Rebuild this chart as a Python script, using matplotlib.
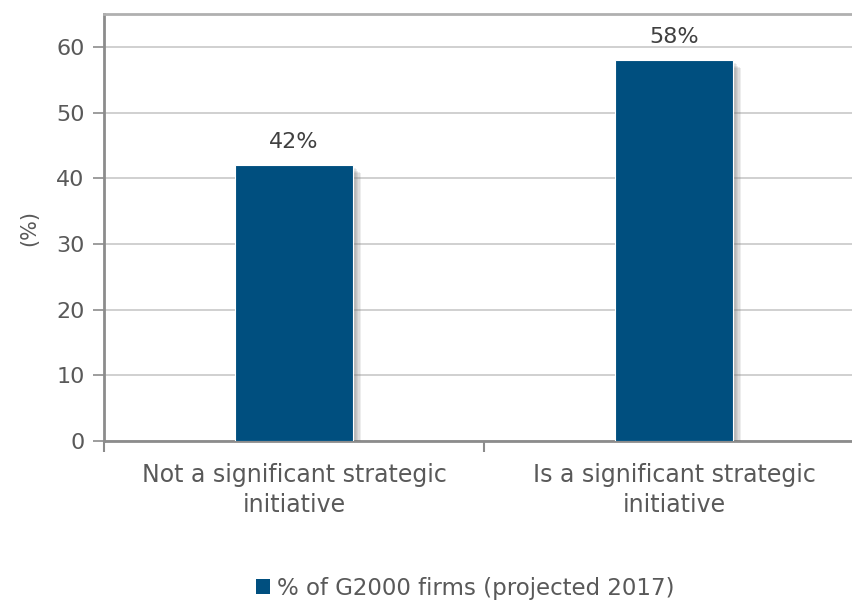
import numpy as np
import matplotlib.pyplot as plt
from matplotlib import patheffects as pe
from matplotlib.patches import Patch

categories = ["Not a significant strategic\ninitiative", "Is a significant strategic\ninitiative"]
values = [42, 58]
value_labels = ["42%", "58%"]
series_name = "% of G2000 firms (projected 2017)"
yticks = [0, 10, 20, 30, 40, 50, 60]

bar_color = "#004f7f"
text_color = "#595959"
axis_color = "#8c8c8c"

plt.rcParams["font.family"] = ["DejaVu Sans"]

fig = plt.figure(figsize=(8.53, 6.04), dpi=100)
ax = fig.add_axes([104 / 853, 163 / 604, 760 / 853, 427 / 604])

x = np.arange(len(categories))
bars = ax.bar(x, values, width=0.31, color=bar_color, edgecolor="white", linewidth=0.8, zorder=3)
# soft drop shadow built from a few offset layers
shadow = [pe.SimplePatchShadow(offset=(d, -d), shadow_rgbFace="#707070", alpha=0.12) for d in (6, 5, 4, 3, 2)]
for b in bars:
    b.set_path_effects(shadow + [pe.Normal()])

for xi, v, lab in zip(x, values, value_labels):
    ax.text(xi, v + 2.0, lab, ha="center", va="bottom", fontsize=16, color="#404040")

ax.set_xlim(-0.5, 1.5)
ax.set_ylim(0, 65)
ax.set_yticks(yticks)
ax.yaxis.grid(True, color="#c8c8c8", linewidth=1.2, zorder=0)
ax.set_axisbelow(True)

ax.set_xticks(x)
ax.set_xticklabels(categories, fontsize=17, color=text_color, linespacing=1.3)
ax.set_xticks([-0.5, 0.5, 1.5], minor=True)
ax.tick_params(axis="x", which="major", length=0, pad=16)
ax.tick_params(axis="x", which="minor", length=8, width=1.5, color=axis_color)
ax.tick_params(axis="y", length=8, width=1.2, color=axis_color, labelsize=16, labelcolor=text_color, pad=6)

ax.set_ylabel("(%)", fontsize=15, color=text_color, labelpad=12)

for side in ["left", "top", "bottom"]:
    ax.spines[side].set_color(axis_color)
    ax.spines[side].set_linewidth(2)
ax.spines["top"].set_color("#b0b0b0")
ax.spines["right"].set_visible(False)

handle = Patch(facecolor=bar_color, edgecolor="none")
fig.legend([handle], [series_name], loc="center", bbox_to_anchor=(465 / 853, 16 / 604),
           frameon=False, fontsize=16.5, labelcolor=text_color, handlelength=0.6, handleheight=0.6,
           handletextpad=0.3)

fig.savefig("out.png", dpi=100)
